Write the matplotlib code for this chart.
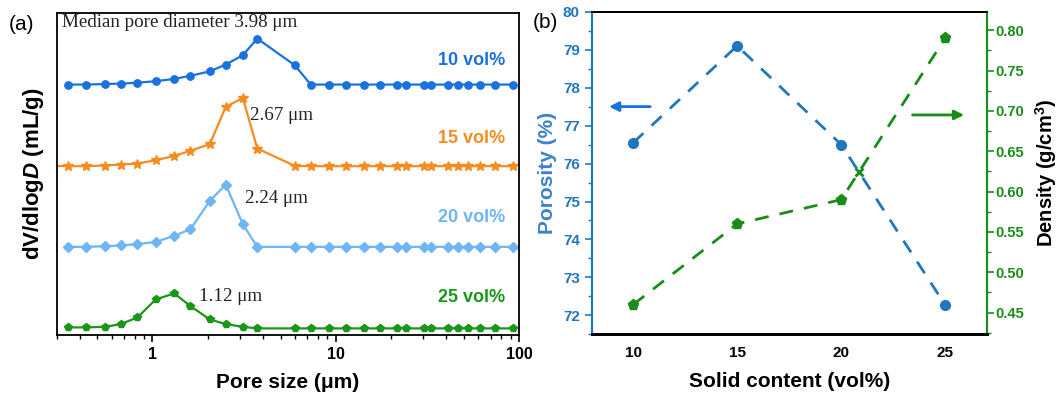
import numpy as np
import matplotlib
matplotlib.use("Agg")
import matplotlib.pyplot as plt
from matplotlib.ticker import LogLocator, NullFormatter, MultipleLocator, FixedLocator

plt.rcParams['font.family'] = ['Liberation Sans', 'DejaVu Sans']
plt.rcParams['mathtext.fontset'] = 'custom'
plt.rcParams['mathtext.rm'] = 'Liberation Sans'
plt.rcParams['mathtext.bf'] = 'Liberation Sans:bold'
plt.rcParams['mathtext.it'] = 'Liberation Sans:italic'
plt.rcParams['mathtext.bfit'] = 'Liberation Sans:italic:bold'

# ---------------- Panel (a) data: pore size distribution ----------------
pore_size = [0.346, 0.433, 0.551, 0.672, 0.828, 1.042, 1.315, 1.612, 2.054, 2.51,
             3.11, 3.73, 5.98, 7.30, 9.19, 11.4, 14.2, 17.4, 21.6, 24.3,
             30.2, 33.3, 41.0, 46.5, 52.7, 61.1, 73.6, 92.7]
n_tail = 16
dv_10 = [0, 0, 0.5, 1.0, 1.8, 3.4, 5.6, 8.8, 13.2, 20.0, 29.3, 46.0, 19.3] + [0] * (n_tail - 1)
dv_15 = [0, 0, 0.7, 1.7, 2.7, 6.0, 10.3, 15.5, 22.0, 59.3, 68.3, 17.7, 0.3] + [0] * (n_tail - 1)
dv_20 = [0, 0, 0.7, 1.4, 2.7, 5.0, 11.0, 17.7, 46.0, 62.3, 22.7, 0, 0] + [0] * (n_tail - 1)
dv_25 = [1.0, 1.0, 1.6, 4.3, 11.0, 29.0, 35.0, 22.3, 9.0, 4.3, 1.6, 0, 0] + [0] * (n_tail - 1)
series_labels = ['10 vol%', '15 vol%', '20 vol%', '25 vol%']
median_labels = ['Median pore diameter 3.98 \u03bcm', '2.67 \u03bcm', '2.24 \u03bcm', '1.12 \u03bcm']

# ---------------- Panel (b) data ----------------
solid_content = [10, 15, 20, 25]
porosity = [76.55, 79.10, 76.50, 72.28]
density = [0.46, 0.56, 0.59, 0.79]

c10, c15, c20, c25 = '#1a72de', '#f78c1e', '#6db5f5', '#1a961a'
c_por, c_den = '#1f77bf', '#1a8c1a'
c_por_lab = '#3c82cc'

fig = plt.figure(figsize=(10.59, 4.0), dpi=100)

# ---------------- Panel (a) ----------------
ax = fig.add_axes([0.0535, 0.163, 0.4366, 0.8045])
offsets = [244.0, 162.3, 81.6, 0.0]
ys = [dv_10, dv_15, dv_20, dv_25]
cols = [c10, c15, c20, c25]
marks = ['o', '*', 'D', 'p']
msz = [5.3, 7.5, 5.0, 5.8]
for y, off, c, m, s in zip(ys, offsets, cols, marks, msz):
    yy = np.array(y) + off
    ax.plot(pore_size, yy, color=c, lw=1.6, marker=m, ms=s, mec=c, mfc=c, clip_on=False)
# orange line continues to the left axis edge
ax.plot([0.30, pore_size[0]], [offsets[1], offsets[1] + dv_15[0]], color=c15, lw=1.6)
ax.set_xscale('log')
ax.set_xlim(0.30, 100)
ax.set_ylim(-6.4, 315.6)
ax.set_yticks([])
ax.xaxis.set_major_locator(FixedLocator([1, 10, 100]))
ax.xaxis.set_major_formatter(plt.FuncFormatter(lambda v, p: f'{v:g}'))
ax.xaxis.set_minor_locator(LogLocator(base=10, subs=np.arange(2, 10)))
ax.xaxis.set_minor_formatter(NullFormatter())
ax.tick_params(axis='x', which='major', direction='out', length=5, width=1.2, labelsize=11.5, pad=4)
ax.tick_params(axis='x', which='minor', direction='out', length=3, width=1.0)
for lab in ax.get_xticklabels():
    lab.set_fontweight('bold')
for sp in ax.spines.values():
    sp.set_linewidth(1.3)
ax.set_xlabel('Pore size (\u03bcm)', fontsize=15, fontweight='bold', labelpad=8)
ax.set_ylabel(r'dV/dlog$\mathbfit{D}$ (mL/g)', fontsize=16, fontweight='bold', labelpad=8)

lab_y = [0.853, 0.61, 0.366, 0.116]
for t, c, yv in zip(series_labels, cols, lab_y):
    ax.text(0.97, yv, t, transform=ax.transAxes, ha='right', va='center',
            color=c, fontsize=13, fontweight='bold')
med_pos = [(0.0115, 0.971), (0.418, 0.682), (0.407, 0.424), (0.308, 0.118)]
for t, (xv, yv) in zip(median_labels, med_pos):
    ax.text(xv, yv, t, transform=ax.transAxes, ha='left', va='center',
            fontsize=13.7, family=['Liberation Serif', 'DejaVu Serif'], color='#222222')

fig.text(22 / 1059, 1 - 25 / 400, '(a)', fontsize=15, ha='center', va='center')
fig.text(545 / 1059, 1 - 22 / 400, '(b)', fontsize=15, ha='center', va='center')

# ---------------- Panel (b) ----------------
bx = fig.add_axes([0.5587, 0.164, 0.373, 0.8068])
bx.plot(solid_content, porosity, color=c_por, lw=2, ls=(0, (5, 4)), marker='o', ms=7,
        mfc=c_por, mec=c_por, zorder=3)
bx.set_xlim(8, 27)
bx.set_ylim(71.5, 80)
bx.set_xticks(solid_content)
bx.yaxis.set_major_locator(MultipleLocator(1))
bx.yaxis.set_minor_locator(MultipleLocator(0.5))
bx.tick_params(axis='x', length=0, labelsize=11, pad=8)
bx.tick_params(axis='y', which='major', direction='out', length=5, width=1.2,
               colors=c_por, labelsize=11)
bx.tick_params(axis='y', which='minor', direction='out', length=3, width=1.0, colors=c_por)
for lab in bx.get_xticklabels() + bx.get_yticklabels():
    lab.set_fontweight('bold')
bx.set_xlabel('Solid content (vol%)', fontsize=15, fontweight='bold', labelpad=9)
bx.set_ylabel('Porosity (%)', fontsize=15, fontweight='bold', color=c_por_lab, labelpad=4)

tx = bx.twinx()
tx.plot(solid_content, density, color=c_den, lw=2, ls=(0, (5, 4)), marker='p', ms=8,
        mfc=c_den, mec=c_den, zorder=3)
tx.set_ylim(0.423, 0.823)
tx.yaxis.set_major_locator(MultipleLocator(0.05))
tx.yaxis.set_minor_locator(MultipleLocator(0.025))
tx.yaxis.set_major_formatter(plt.FuncFormatter(lambda v, p: f'{v:.2f}'))
tx.tick_params(axis='y', which='major', direction='out', length=5, width=1.2,
               colors=c_den, labelsize=10.5, pad=1.5)
tx.tick_params(axis='y', which='minor', direction='out', length=3, width=1.0, colors=c_den)
for lab in tx.get_yticklabels():
    lab.set_fontweight('bold')
tx.set_ylabel(r'Density (g/cm$^\mathbf{3}$)', fontsize=14.5, fontweight='bold', labelpad=6)

for a in (bx, tx):
    a.spines['left'].set_color(c_por)
    a.spines['right'].set_color(c_den)
    a.spines['left'].set_linewidth(1.5)
    a.spines['right'].set_linewidth(1.5)
    a.spines['top'].set_linewidth(1.3)
    a.spines['bottom'].set_linewidth(2.0)

# crossing mark of the two dashed lines (computed in porosity-axis coordinates)
d_lo, d_hi = tx.get_ylim()
p_lo, p_hi = bx.get_ylim()
den_in_por = [p_lo + (d - d_lo) / (d_hi - d_lo) * (p_hi - p_lo) for d in density]
x0, x1 = solid_content[2], solid_content[3]
pa, pb = porosity[2], porosity[3]
da, db = den_in_por[2], den_in_por[3]
t = (pa - da) / ((db - da) - (pb - pa))
bx.plot([x0 + t * (x1 - x0)], [pa + t * (pb - pa)], marker='x', ms=6, mew=2,
        color=c_den, ls='none', zorder=4)

# arrows indicating axes
bx.annotate('', xy=(8.7, 77.5), xytext=(10.95, 77.5),
            arrowprops=dict(arrowstyle='-|>', color='#1a72de', lw=2, mutation_scale=14))
tx.annotate('', xy=(26.05, 0.695), xytext=(23.3, 0.695),
            arrowprops=dict(arrowstyle='-|>', color=c_den, lw=2, mutation_scale=14))

fig.savefig('out.png', dpi=100)
